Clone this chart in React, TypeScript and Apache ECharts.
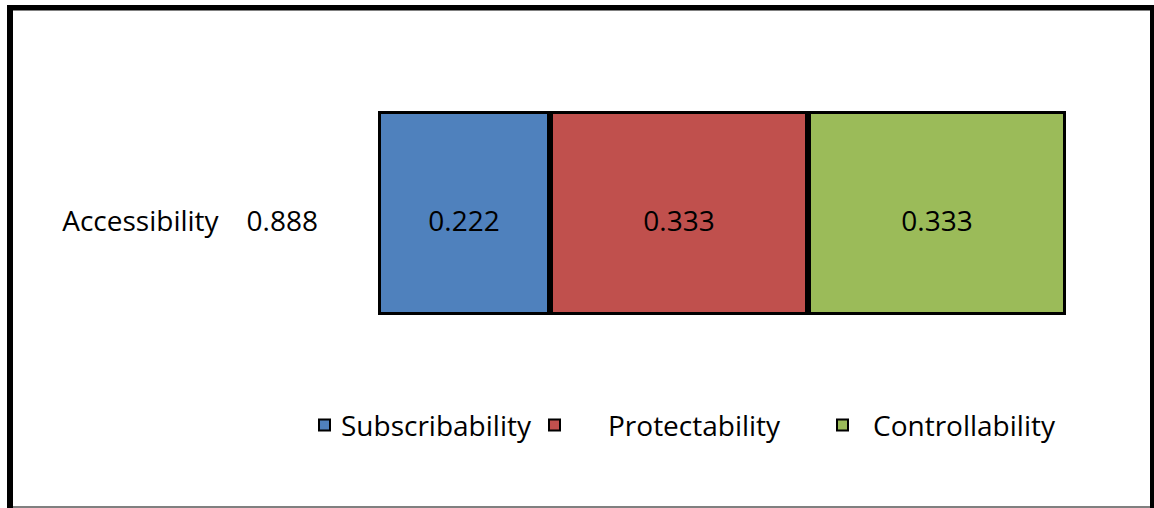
import React, { useEffect, useRef } from "react";
import * as echarts from "echarts";

const categories = ["Accessibility"];
const totalLabels = ["0.888"];
const seriesNames = ["Subscribability", "Protectability", "Controllability"];
const seriesValues = [[0.222], [0.333], [0.333]];
const seriesColors = ["#4F81BD", "#C0504D", "#9BBB59"];
const axisMax = 0.888;

const FONT = "'Open Sans', sans-serif";

export default function App() {
  const ref = useRef<HTMLDivElement>(null);
  useEffect(() => {
    if (!ref.current) return;
    const chart = echarts.init(ref.current, undefined, { renderer: "svg" });
    const legendLefts = [313, 543, 831];
    const legendPads = [6, 43, 20];
    chart.setOption({
      animation: false,
      backgroundColor: "#ffffff",
      grid: { left: 378, right: 88, top: 111, height: 204 },
      xAxis: {
        type: "value",
        min: 0,
        max: axisMax,
        show: false,
      },
      yAxis: {
        type: "category",
        data: categories,
        axisLine: { show: false },
        axisTick: { show: false },
        splitLine: { show: false },
        axisLabel: {
          margin: 60,
          padding: [14, 0, 0, 0],
          formatter: (v: string, i: number) => `{a|${v}}{b|${totalLabels[i]}}`,
          rich: {
            a: { fontFamily: FONT, fontSize: 28, color: "#000" },
            b: { fontFamily: FONT, fontSize: 28, color: "#000", padding: [0, 0, 0, 28] },
          },
        },
      },
      legend: seriesNames.map((name, i) => ({
        data: [name],
        left: legendLefts[i],
        top: 406,
        itemWidth: 11,
        itemHeight: 11,
        icon: "rect",
        selectedMode: false,
        itemStyle: { borderColor: "#000", borderWidth: 2 },
        textStyle: {
          fontFamily: FONT,
          fontSize: 28,
          color: "#000",
          padding: [0, 0, 0, legendPads[i]],
        },
      })),
      series: seriesNames.map((name, i) => ({
        name,
        type: "bar",
        stack: "total",
        data: seriesValues[i],
        barWidth: "100%",
        itemStyle: { color: seriesColors[i], borderColor: "#000", borderWidth: 3 },
        label: {
          show: true,
          position: "inside",
          offset: [0, 7],
          formatter: (p: any) => p.value.toFixed(3),
          fontFamily: FONT,
          fontSize: 28,
          color: "#000",
        },
      })),
      graphic: [
        { type: "rect", shape: { x: 7, y: 5, width: 1147, height: 5 }, style: { fill: "#000" }, silent: true },
        { type: "rect", shape: { x: 13, y: 10, width: 1137, height: 1 }, style: { fill: "#808080" }, silent: true },
        { type: "rect", shape: { x: 7, y: 5, width: 6, height: 503 }, style: { fill: "#000" }, silent: true },
        { type: "rect", shape: { x: 1150, y: 5, width: 4, height: 503 }, style: { fill: "#000" }, silent: true },
        { type: "rect", shape: { x: 13, y: 506, width: 1137, height: 2 }, style: { fill: "#808080" }, silent: true },
      ],
    });
    return () => chart.dispose();
  }, []);
  return (
    <div
      ref={ref}
      style={{ position: "absolute", left: 0, top: 0, width: 1154, height: 508 }}
    />
  );
}
